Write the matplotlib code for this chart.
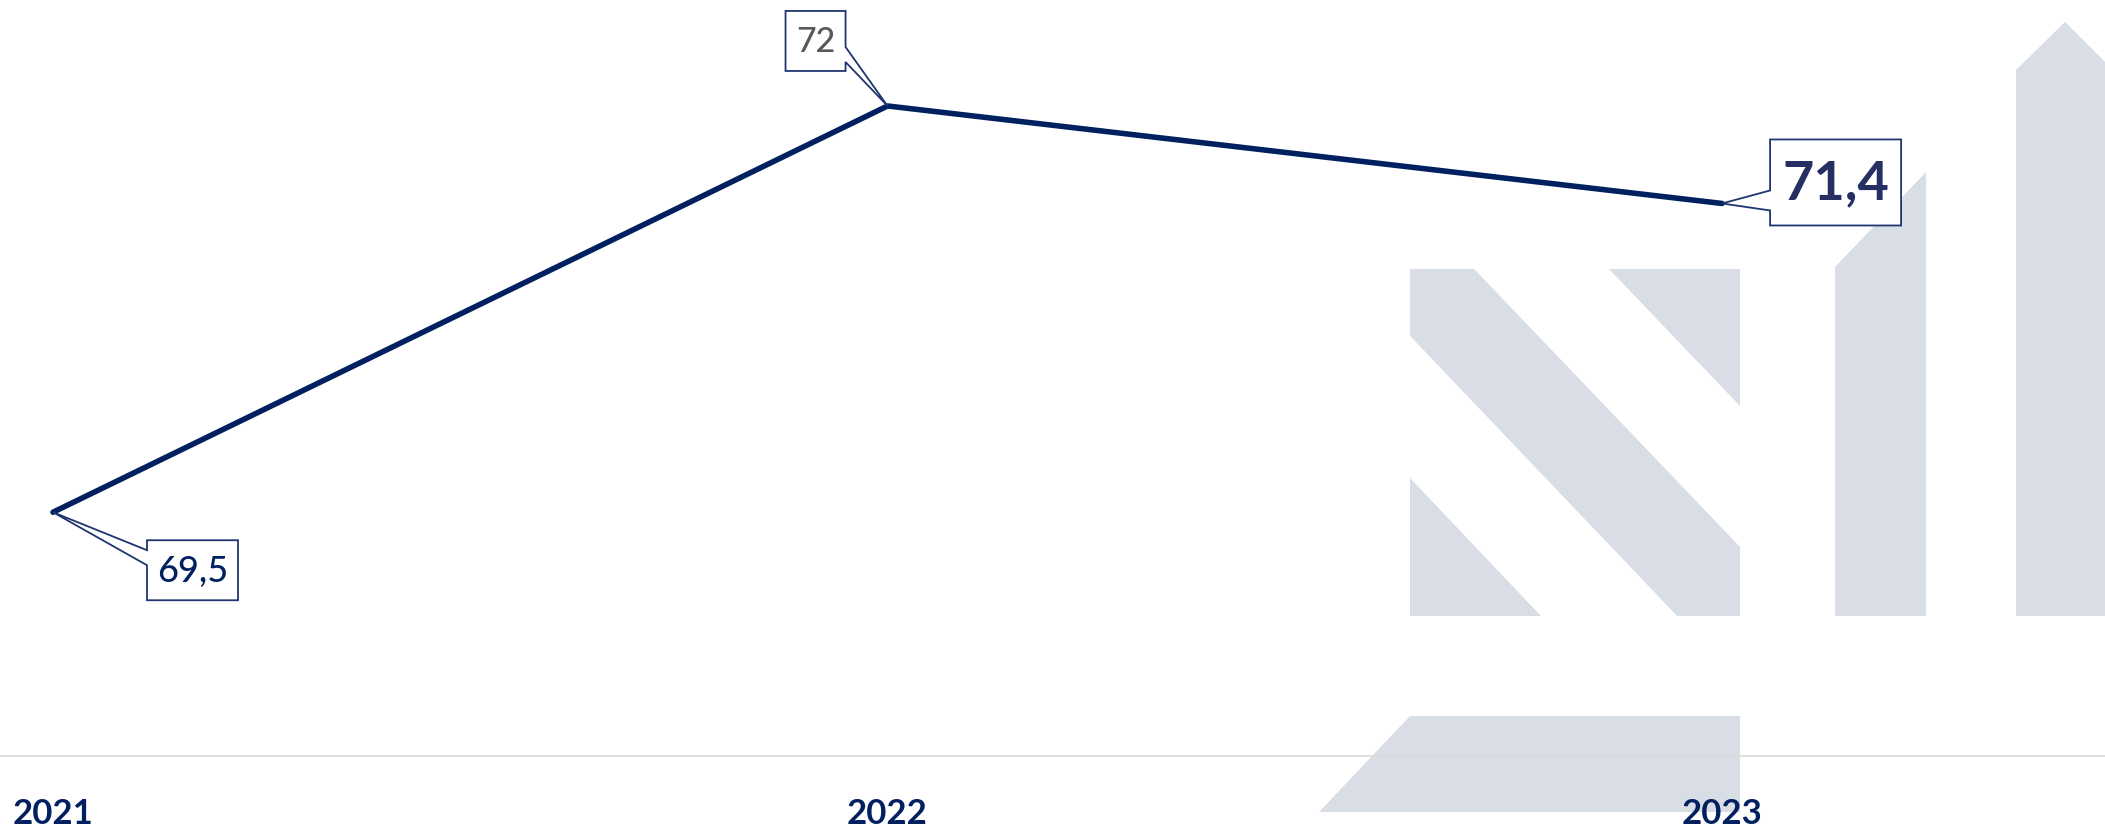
import matplotlib
matplotlib.use("Agg")
import matplotlib.pyplot as plt
from matplotlib.patches import Polygon
from matplotlib.transforms import Affine2D

# ---- data ----
years = ["2021", "2022", "2023"]
values = [69.5, 72.0, 71.4]
value_labels = ["69,5", "72", "71,4"]

W, H = 2105, 829
NAVY = "#002060"
LOGO = "#d9dde6"

plt.rcParams["font.family"] = ["Lato", "DejaVu Sans"]

fig = plt.figure(figsize=(W / 100 + 0.001, H / 100 + 0.001), dpi=100)
ax = fig.add_axes([0, (H - 756) / H, 1, 756 / H])
ax.patch.set_visible(False)

x = list(range(len(years)))
ax.set_xlim(-53 / 834.5, (W - 53) / 834.5)
ax.set_ylim(68.0, 72.0 + 106 / 162.4)

# pixel transform (figure pixels, y measured downward from top)
pix = Affine2D().scale(1 / W, -1 / H).translate(0, 1) + fig.transFigure

# ---- watermark logo ----
logo_shapes = [
    [(1410, 269), (1474, 269), (1740, 547), (1740, 616), (1677, 616), (1410, 336)],
    [(1609, 269), (1740, 269), (1740, 406)],
    [(1410, 478), (1410, 616), (1541, 616)],
    [(1319, 812), (1410, 716), (1740, 716), (1740, 812)],
    [(1835, 267), (1926, 172), (1926, 616), (1835, 616)],
    [(2016, 616), (2016, 70), (2065, 22), (2160, 117), (2160, 616)],
]
for pts in logo_shapes:
    ax.add_patch(Polygon(pts, closed=True, facecolor=LOGO, edgecolor="none",
                         transform=pix, clip_on=False, zorder=0.5))

# ---- line ----
ax.plot(x, values, color=NAVY, lw=4.0, solid_capstyle="round",
        solid_joinstyle="round", zorder=3)

# ---- axes styling ----
for s in ["top", "left", "right"]:
    ax.spines[s].set_visible(False)
ax.spines["bottom"].set_color("#d9d9d9")
ax.spines["bottom"].set_linewidth(1.2)
ax.set_yticks([])
ax.set_xticks(x, years)
ax.tick_params(axis="x", length=0, pad=30, labelsize=25, labelcolor=NAVY)
for lab in ax.get_xticklabels():
    lab.set_fontweight("bold")

# ---- callouts ----
fig.canvas.draw()
inv = fig.transFigure.inverted()


def to_pix(xi, yi):
    fx, fy = inv.transform(ax.transData.transform((xi, yi)))
    return fx * W, (1 - fy) * H


# (left, right, top, bottom, wedge side, w1, w2) offsets in pixels from point
callout_geom = [
    (94, 185, 28, 88, "left", 38, 53),
    (-102, -42, -95, -35, "right", -59, -44),
    (48, 179, -64, 22, "left", -13, 7),
]
label_style = [
    dict(color=NAVY, fontsize=26, fontweight="medium"),
    dict(color="#595959", fontsize=24.5, fontweight="medium"),
    dict(color="#262f62", fontsize=39, fontweight="bold"),
]

for xi, yi, txt, g, st in zip(x, values, value_labels, callout_geom, label_style):
    px, py = to_pix(xi, yi)
    l, r, t, b, side, w1, w2 = g
    L, R, T, B = px + l, px + r, py + t, py + b
    if side == "left":
        pts = [(L, T), (R, T), (R, B), (L, B), (L, py + w2), (px, py), (L, py + w1)]
    else:
        pts = [(L, T), (R, T), (R, py + w1), (px, py), (R, py + w2), (R, B), (L, B)]
    ax.add_patch(Polygon(pts, closed=True, facecolor="white", edgecolor="#1f3570",
                         lw=1.3, transform=pix, clip_on=False, zorder=5))
    ax.text((L + R) / 2, (T + B) / 2 + 1, txt, transform=pix, ha="center",
            va="center", zorder=6, **st)

fig.savefig("out.png", dpi=100, facecolor="white")
